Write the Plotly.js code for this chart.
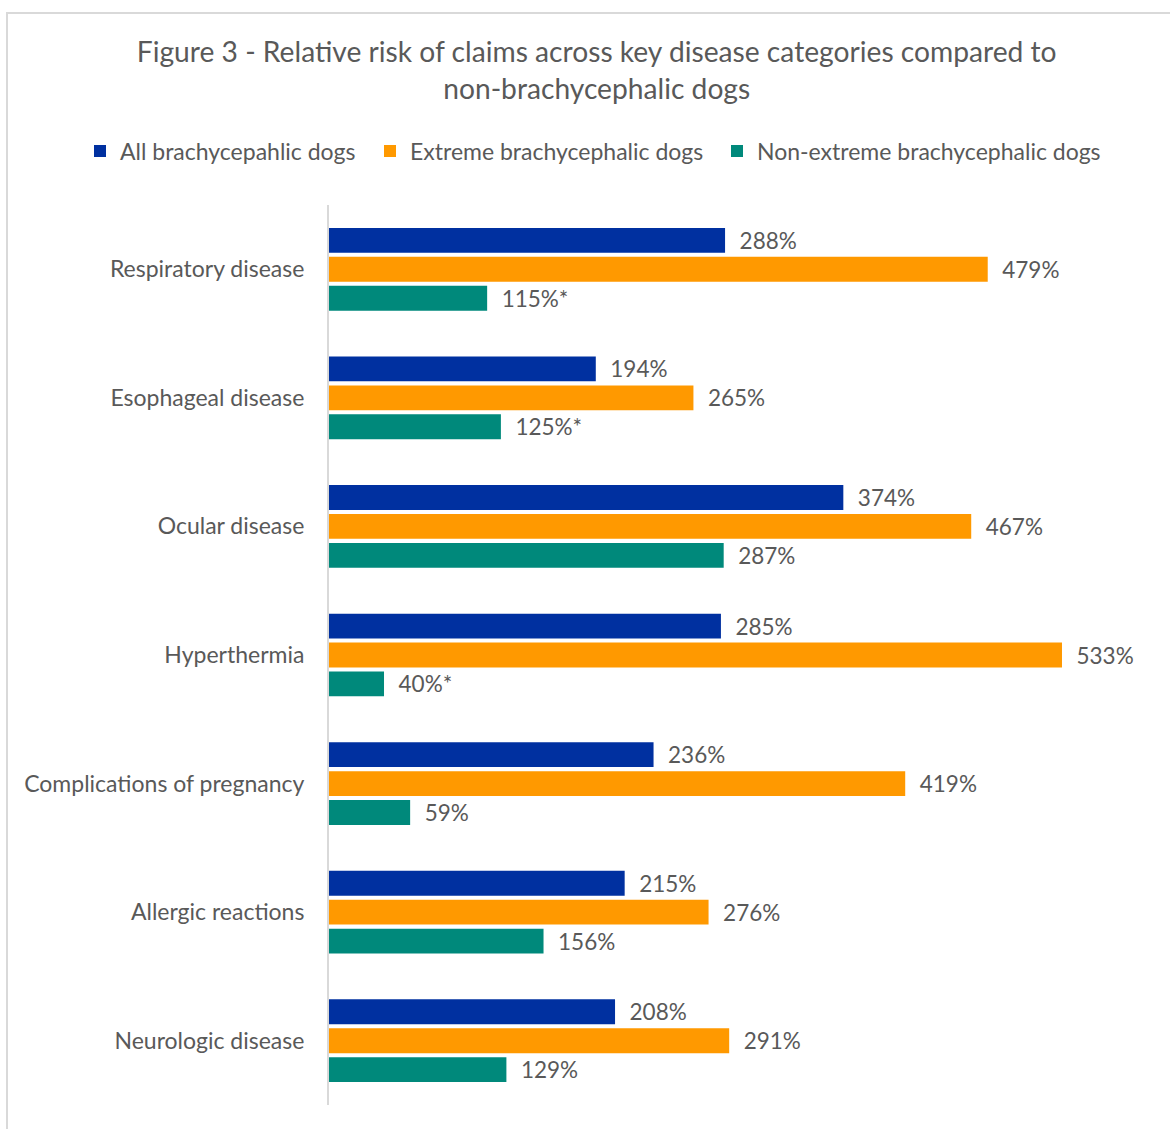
<!DOCTYPE html>
<html>
<head>
<meta charset="utf-8">
<script src="https://cdn.plot.ly/plotly-3.0.1.min.js"></script>
<style>
  html, body { margin: 0; padding: 0; background: #ffffff; overflow: hidden; }
  #frame { position: absolute; left: 6px; top: 12px; width: 1180px; height: 1140px; border: 2px solid #d9d9d9; box-sizing: border-box; }
  #chart { position: absolute; left: 0; top: 0; width: 1170px; height: 1129px; }
</style>
</head>
<body>
<div id="frame"></div>
<div id="chart"></div>
<script>
const categories = ["Respiratory disease", "Esophageal disease", "Ocular disease", "Hyperthermia", "Complications of pregnancy", "Allergic reactions", "Neurologic disease"];
const seriesNames = ["All brachycepahlic dogs", "Extreme brachycephalic dogs", "Non-extreme brachycephalic dogs"];
const allBrachy = [288, 194, 374, 285, 236, 215, 208];
const extremeBrachy = [479, 265, 467, 533, 419, 276, 291];
const nonExtremeBrachy = [115, 125, 287, 40, 59, 156, 129];
const allLabels = ["288%", "194%", "374%", "285%", "236%", "215%", "208%"];
const extremeLabels = ["479%", "265%", "467%", "533%", "419%", "276%", "291%"];
const nonExtremeLabels = ["115%*", "125%*", "287%", "40%*", "59%", "156%", "129%"];
const colors = ["#0030a0", "#ff9900", "#00897b"];

const FONT = "Lato, 'Liberation Sans', sans-serif";
const GREY = "#595959";

function mk(name, vals, labels, color, legendId) {
  return {
    type: "bar", orientation: "h", name: name, legend: legendId,
    y: categories, x: vals, text: labels,
    texttemplate: "\u00a0\u00a0%{text}",
    textposition: "outside", cliponaxis: false, constraintext: "none",
    textfont: { family: FONT, size: 22.5, color: GREY },
    marker: { color: color, line: { width: 0 } },
    hoverinfo: "skip"
  };
}

const data = [
  mk(seriesNames[0], allBrachy, allLabels, colors[0], "legend"),
  mk(seriesNames[1], extremeBrachy, extremeLabels, colors[1], "legend2"),
  mk(seriesNames[2], nonExtremeBrachy, nonExtremeLabels, colors[2], "legend3")
];

function leg(textStartPx) {
  return {
    orientation: "h", xref: "container", yref: "container",
    x: (textStartPx - 40) / 1170, xanchor: "left", y: 1 - 151/1129, yanchor: "middle",
    font: { family: FONT, size: 23, color: GREY },
    itemwidth: 30, bgcolor: "rgba(0,0,0,0)", borderwidth: 0
  };
}

const layout = {
  width: 1170, height: 1129,
  paper_bgcolor: "rgba(0,0,0,0)", plot_bgcolor: "rgba(0,0,0,0)",
  margin: { l: 329, r: 20, t: 205, b: 24 },
  font: { family: FONT, color: GREY },
  title: {
    text: "Figure 3 - Relative risk of claims across key disease categories compared to<br>non-brachycephalic dogs",
    font: { family: FONT, size: 28.2, color: GREY },
    x: 0.51, xanchor: "center", xref: "container",
    y: 1 - 62/1129, yanchor: "top", yref: "container"
  },
  barmode: "group", bargap: 0.325, bargroupgap: 0.14,
  showlegend: true,
  legend: leg(120),
  legend2: leg(410),
  legend3: leg(757),
  xaxis: { range: [0, 597], showgrid: false, zeroline: false, showticklabels: false, showline: false, fixedrange: true },
  yaxis: {
    autorange: "reversed", showgrid: false, zeroline: false,
    showline: true, linecolor: "#d9d9d9", linewidth: 2,
    ticks: "", ticklabelstandoff: 18,
    tickfont: { family: FONT, size: 23, color: GREY }
  }
};

Plotly.newPlot("chart", data, layout, { displayModeBar: false, staticPlot: true });
</script>
</body>
</html>
